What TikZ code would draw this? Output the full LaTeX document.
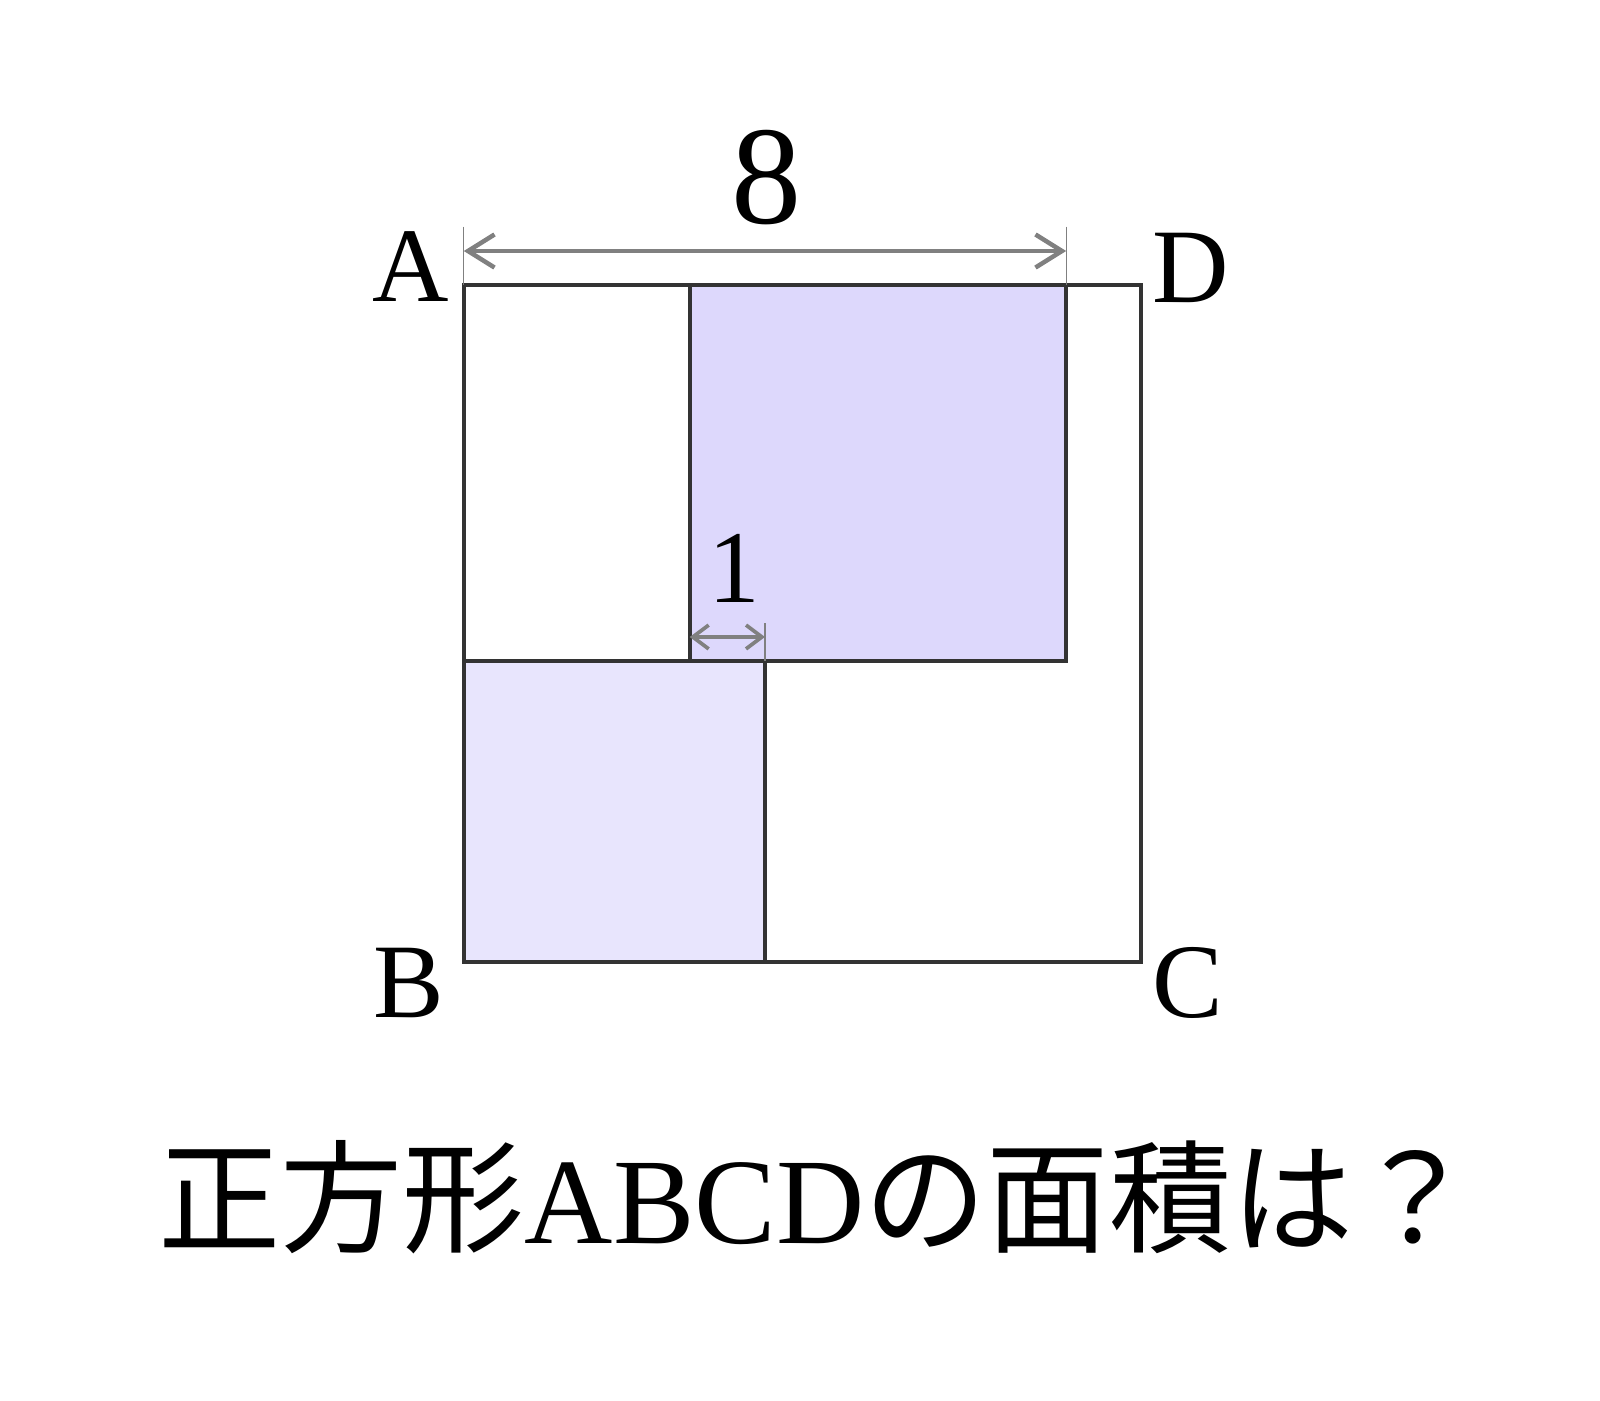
\documentclass[tikz,border=0pt]{standalone}
\usepackage{fontspec}
\setmainfont{Liberation Serif}
\newfontfamily\cjk{Noto Sans CJK JP}
\usetikzlibrary{arrows.meta}
\definecolor{upfill}{HTML}{DDD8FC}
\definecolor{lowfill}{HTML}{E8E5FD}
\definecolor{dimgray}{HTML}{808080}
\tikzset{
  edge/.style={line width=1.5pt,draw=black!80},
  dimline/.style={dimgray,line width=1.7pt,line cap=round,
    {Straight Barb[length=10pt,width=12.5pt]}-{Straight Barb[length=10pt,width=12.5pt]}},
  dimsmall/.style={dimgray,line width=1.4pt,line cap=round,
    {Straight Barb[length=6pt,width=9pt]}-{Straight Barb[length=6pt,width=9pt]}},
  ext/.style={dimgray,line width=0.4pt},
  lbl/.style={inner sep=0pt,font=\fontsize{40}{48}\selectfont}
}
\begin{document}
\begin{tikzpicture}
  \useasboundingbox (-6.16,-5.82) rectangle (15.09,12.78);
  % corners
  \coordinate (A) at (0,9);
  \coordinate (B) at (0,0);
  \coordinate (C) at (9,0);
  \coordinate (D) at (9,9);
  \coordinate (P) at (3,9);
  \coordinate (Q) at (3,4);
  \coordinate (R) at (8,4);
  \coordinate (S) at (8,9);
  \coordinate (T) at (0,4);
  \coordinate (U) at (4,4);
  \coordinate (V) at (4,0);
  % shaded parts
  \fill[upfill] (Q) rectangle (S);
  \fill[lowfill] (B) rectangle (U);
  \draw[edge] (A) rectangle (C);
  \draw[edge] (P) -- (Q);
  \draw[edge] (T) -- (R) -- (S);
  \draw[edge] (U) -- (V);
  % dimensions
  \coordinate (e8a) at (0,9.77);
  \coordinate (e8b) at (8,9.77);
  \coordinate (d8a) at (0,9.446);
  \coordinate (d8b) at (8,9.446);
  \draw[ext] (e8a) -- (A);
  \draw[ext] (e8b) -- (S);
  \draw[dimline] (d8a) -- (d8b);
  \coordinate (e1) at (4,4.5);
  \coordinate (d1a) at (3,4.32);
  \coordinate (d1b) at (4,4.32);
  \draw[ext] (e1) -- (U);
  \draw[dimsmall] (d1a) -- (d1b);
  % labels
  \node[lbl,anchor=base east] (lA) at (-0.19,8.78) {A};
  \node[lbl,anchor=base west] (lD) at (9.14,8.765) {D};
  \node[lbl,anchor=base east] (lB) at (-0.25,-0.74) {B};
  \node[lbl,anchor=base west] (lC) at (9.14,-0.73) {C};
  \node[lbl,anchor=base,font=\fontsize{53}{60}\selectfont] (l8) at (4.02,9.81) {8};
  \node[lbl,anchor=base,font=\fontsize{39}{46}\selectfont] (l1) at (3.59,4.78) {1};
  \node[lbl,anchor=base,font=\fontsize{46.2}{54}\selectfont] (title) at (4.69,-3.73)
    {{\cjk 正方形}ABCD{\cjk の面積は？}};
\end{tikzpicture}
\end{document}
